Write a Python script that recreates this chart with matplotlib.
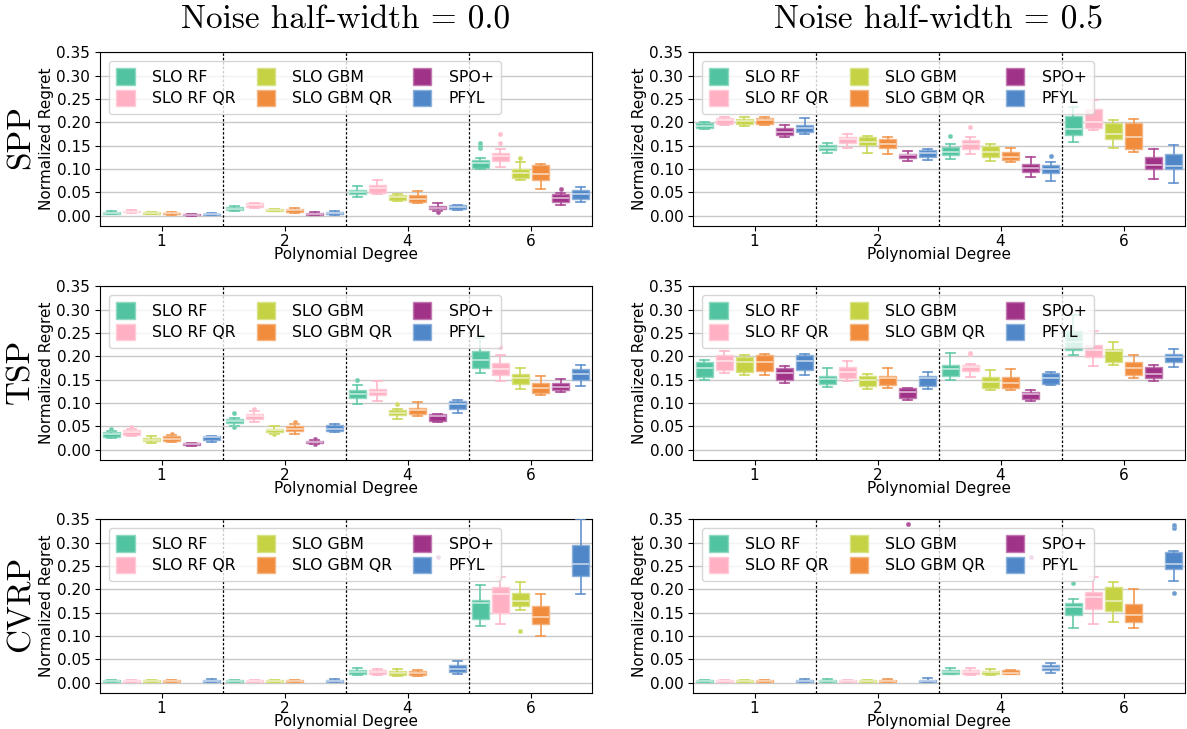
import matplotlib
matplotlib.use('Agg')
import matplotlib.pyplot as plt
from matplotlib.patches import Patch
from matplotlib.colors import to_rgb
import numpy as np

methods = ['SLO RF', 'SLO RF QR', 'SLO GBM', 'SLO GBM QR', 'SPO+', 'PFYL']
colors = ['#52c3a0', '#ffb0c3', '#c4d244', '#f08c3c', '#a03287', '#5087c8']
degrees = ['1', '2', '4', '6']
problems = ['SPP', 'TSP', 'CVRP']
noise_levels = ['0.0', '0.5']

# Box stats per method (rows) and degree (cols): (whislo, q1, med, q3, whishi)
spp_n00 = [
    [(.003, .004, .006, .008, .009), (.010, .011, .015, .018, .020), (.040, .046, .051, .055, .064), (.099, .103, .112, .119, .124)],
    [(.006, .007, .008, .010, .011), (.017, .018, .022, .026, .027), (.046, .048, .058, .066, .077), (.105, .118, .127, .134, .142)],
    [(.003, .004, .005, .007, .008), (.009, .010, .012, .014, .015), (.032, .033, .040, .045, .046), (.076, .081, .091, .099, .114)],
    [(.002, .003, .005, .006, .008), (.006, .007, .011, .013, .016), (.027, .028, .036, .044, .052), (.057, .076, .089, .108, .111)],
    [(.000, .001, .002, .003, .004), (.001, .002, .004, .006, .007), (.009, .013, .017, .021, .026), (.022, .029, .038, .046, .048)],
    [(.001, .002, .003, .004, .006), (.002, .003, .005, .008, .009), (.011, .013, .018, .022, .023), (.028, .036, .046, .055, .061)],
]
spp_n05 = [
    [(.186, .188, .193, .198, .200), (.134, .140, .146, .151, .156), (.121, .129, .136, .148, .154), (.158, .172, .186, .214, .233)],
    [(.194, .197, .205, .210, .211), (.146, .156, .165, .168, .175), (.133, .143, .154, .163, .168), (.183, .188, .201, .228, .249)],
    [(.192, .197, .202, .208, .211), (.135, .151, .157, .168, .170), (.116, .126, .137, .149, .153), (.144, .165, .175, .199, .206)],
    [(.195, .197, .206, .210, .212), (.132, .144, .153, .165, .168), (.114, .119, .126, .137, .144), (.137, .143, .169, .199, .207)],
    [(.169, .173, .180, .188, .195), (.116, .123, .129, .133, .139), (.083, .093, .102, .110, .126), (.078, .100, .109, .126, .143)],
    [(.175, .179, .187, .195, .210), (.119, .126, .134, .140, .143), (.075, .092, .100, .108, .114), (.070, .099, .107, .131, .151)],
]
tsp_n00 = [
    [(.024, .027, .033, .037, .040), (.050, .056, .062, .066, .068), (.098, .110, .119, .127, .138), (.165, .176, .192, .211, .240)],
    [(.029, .031, .037, .041, .045), (.060, .065, .072, .076, .082), (.105, .116, .123, .130, .147), (.148, .159, .172, .185, .202)],
    [(.015, .018, .021, .025, .028), (.033, .038, .042, .045, .050), (.066, .075, .079, .084, .088), (.130, .141, .153, .162, .176)],
    [(.016, .019, .023, .028, .031), (.033, .040, .044, .050, .054), (.071, .077, .084, .089, .101), (.117, .121, .131, .143, .158)],
    [(.0085, .009, .011, .013, .014), (.012, .014, .016, .019, .021), (.059, .062, .072, .077, .077), (.123, .128, .134, .143, .152)],
    [(.017, .021, .026, .029, .030), (.037, .039, .045, .052, .055), (.079, .087, .097, .104, .106), (.136, .150, .162, .172, .181)],
]
tsp_n05 = [
    [(.149, .156, .174, .187, .192), (.134, .141, .152, .158, .176), (.150, .158, .172, .182, .207), (.202, .214, .230, .255, .288)],
    [(.164, .170, .190, .203, .211), (.147, .153, .167, .177, .189), (.155, .169, .177, .182, .183), (.179, .199, .214, .224, .255)],
    [(.160, .167, .187, .199, .202), (.130, .136, .149, .158, .163), (.128, .133, .146, .155, .170), (.182, .187, .211, .216, .230)],
    [(.160, .168, .187, .202, .204), (.132, .139, .153, .158, .175), (.127, .131, .143, .155, .172), (.153, .159, .175, .188, .202)],
    [(.143, .149, .165, .176, .179), (.106, .110, .123, .131, .133), (.104, .109, .119, .124, .128), (.148, .154, .162, .177, .181)],
    [(.159, .171, .190, .203, .204), (.130, .136, .153, .158, .166), (.138, .141, .154, .165, .167), (.177, .187, .198, .205, .216)],
]
cvrp_n00 = [
    [(.001, .001, .003, .005, .005), (.001, .001, .003, .005, .006), (.016, .018, .023, .026, .031), (.121, .137, .171, .177, .210)],
    [(.001, .001, .003, .005, .005), (.001, .001, .003, .005, .006), (.016, .018, .023, .026, .030), (.126, .150, .191, .205, .227)],
    [(.001, .001, .003, .005, .005), (.001, .001, .003, .005, .006), (.013, .017, .021, .024, .028), (.155, .164, .176, .192, .216)],
    [(.001, .001, .003, .005, .005), (.001, .001, .003, .005, .006), (.013, .016, .020, .024, .027), (.100, .125, .141, .164, .189)],
    [None, None, None, None],
    [(.001, .002, .004, .005, .008), (.001, .002, .004, .005, .007), (.018, .022, .030, .038, .047), (.190, .229, .254, .295, .352)],
]
cvrp_n05 = [
    [(.001, .001, .003, .005, .005), (.001, .001, .003, .005, .007), (.018, .019, .023, .027, .031), (.118, .145, .162, .171, .179)],
    [(.001, .001, .003, .005, .005), (.001, .001, .003, .005, .006), (.017, .018, .023, .027, .031), (.126, .157, .184, .195, .227)],
    [(.001, .001, .003, .005, .005), (.001, .001, .003, .005, .006), (.016, .018, .022, .025, .030), (.129, .154, .175, .205, .215)],
    [(.001, .001, .003, .005, .005), (.001, .001, .003, .005, .007), (.018, .018, .021, .026, .027), (.116, .130, .145, .168, .200)],
    [None, None, None, None],
    [(.001, .002, .004, .005, .008), (.001, .002, .004, .005, .010), (.021, .027, .032, .037, .041), (.218, .243, .254, .280, .283)],
]

# Outliers: (method index, degree index, values)
spp_n00_fliers = [(0, 3, [.146, .150, .155]), (1, 3, [.155, .176]), (2, 3, [.123]), (4, 2, [.007]), (4, 3, [.057])]
spp_n05_fliers = [(0, 2, [.171]), (1, 2, [.189]), (5, 2, [.127])]
tsp_n00_fliers = [(0, 0, [.043]), (1, 0, [.048]), (2, 1, [.033]), (3, 0, [.034]), (0, 1, [.079, .048]),
                  (1, 1, [.088]), (3, 1, [.058]), (4, 1, [.023, .011]), (0, 2, [.150]), (2, 2, [.097]), (1, 3, [.220])]
tsp_n05_fliers = [(1, 2, [.204, .207])]
cvrp_n00_fliers = [(2, 3, [.111]), (4, 2, [.270])]
cvrp_n05_fliers = [(0, 3, [.214]), (4, 1, [.340]), (4, 2, [.270]), (5, 3, [.331, .339, .192])]

panel_stats = [[spp_n00, spp_n05], [tsp_n00, tsp_n05], [cvrp_n00, cvrp_n05]]
panel_fliers = [[spp_n00_fliers, spp_n05_fliers], [tsp_n00_fliers, tsp_n05_fliers],
                [cvrp_n00_fliers, cvrp_n05_fliers]]


def lighten(c, f):
    r, g, b = to_rgb(c)
    return (r + (1 - r) * f, g + (1 - g) * f, b + (1 - b) * f)


W, H = 1187, 729
fig = plt.figure(figsize=(W / 100, H / 100), dpi=100)
plt.rcParams['font.size'] = 11

col_left = [100, 693]
col_w = 492
row_top = [52, 286, 519]
row_h = 174
slot = 0.163
box_w = 0.136

for r in range(3):
    for c in range(2):
        ax = fig.add_axes([col_left[c] / W, 1 - (row_top[r] + row_h) / H, col_w / W, row_h / H])
        stats = panel_stats[r][c]
        fl = {(m, d): v for m, d, v in panel_fliers[r][c]}
        for m in range(6):
            col = colors[m]
            for d in range(4):
                pos = d + (m - 2.5) * slot
                s = stats[m][d]
                fv = fl.get((m, d), [])
                if s is None:
                    if fv:
                        ax.plot([pos] * len(fv), fv, 'o', ms=3, color=lighten(col, 0.15),
                                mec=lighten(col, 0.35), mew=0.6, zorder=3)
                    continue
                lo, q1, med, q3, hi = s
                st = dict(whislo=lo, q1=q1, med=med, q3=q3, whishi=hi, fliers=fv)
                ax.bxp([st], positions=[pos], widths=box_w, patch_artist=True, showfliers=True,
                       boxprops=dict(facecolor=col, edgecolor=lighten(col, 0.35), linewidth=1.0),
                       whiskerprops=dict(color=lighten(col, 0.1), linewidth=1.2),
                       capprops=dict(color=lighten(col, 0.1), linewidth=1.2),
                       medianprops=dict(color=lighten(col, 0.65), linewidth=1.2),
                       flierprops=dict(marker='o', markersize=3, markerfacecolor=lighten(col, 0.15),
                                       markeredgecolor=lighten(col, 0.35), markeredgewidth=0.6),
                       capwidths=box_w * 0.5, manage_ticks=False, zorder=3)
        for xs in [0.5, 1.5, 2.5]:
            ax.axvline(xs, color='black', linestyle=(0, (2, 1.5)), linewidth=0.9, zorder=2)
        ax.set_xlim(-0.5, 3.5)
        ax.set_ylim(-0.0225, 0.351)
        ax.set_yticks(np.arange(0, 0.351, 0.05))
        ax.set_yticklabels([f'{v:.2f}' for v in np.arange(0, 0.351, 0.05)])
        ax.set_xticks(range(4))
        ax.set_xticklabels(degrees)
        ax.tick_params(labelsize=11)
        ax.tick_params(axis='x', pad=2)
        ax.yaxis.grid(True, color='#c8c8c8', linewidth=1.0, zorder=0)
        ax.set_axisbelow(True)
        ax.set_ylabel('Normalized Regret', fontsize=11, labelpad=2)
        ax.set_xlabel('Polynomial Degree', fontsize=11, labelpad=-1)
        handles = [Patch(facecolor=colors[i], edgecolor=lighten(colors[i], 0.35), label=methods[i])
                   for i in range(6)]
        leg = ax.legend(handles=handles, loc='upper left', ncol=3, fontsize=11.3,
                        handlelength=1.15, handleheight=1.2, columnspacing=1.35,
                        handletextpad=1.1, labelspacing=0.3, borderaxespad=0.55,
                        borderpad=0.5, framealpha=0.8)
        leg.set_zorder(5)

for c in range(2):
    fig.text((col_left[c] + col_w / 2) / W, 1 - 20 / H, f'Noise half-width = {noise_levels[c]}',
             family='cmr10', fontsize=24, ha='center', va='center')
for r in range(3):
    fig.text(21 / W, 1 - (row_top[r] + row_h / 2 - 2) / H, problems[r], family='cmr10',
             fontsize=24, rotation=90, ha='center', va='center')

fig.savefig('out.png', dpi=100)
